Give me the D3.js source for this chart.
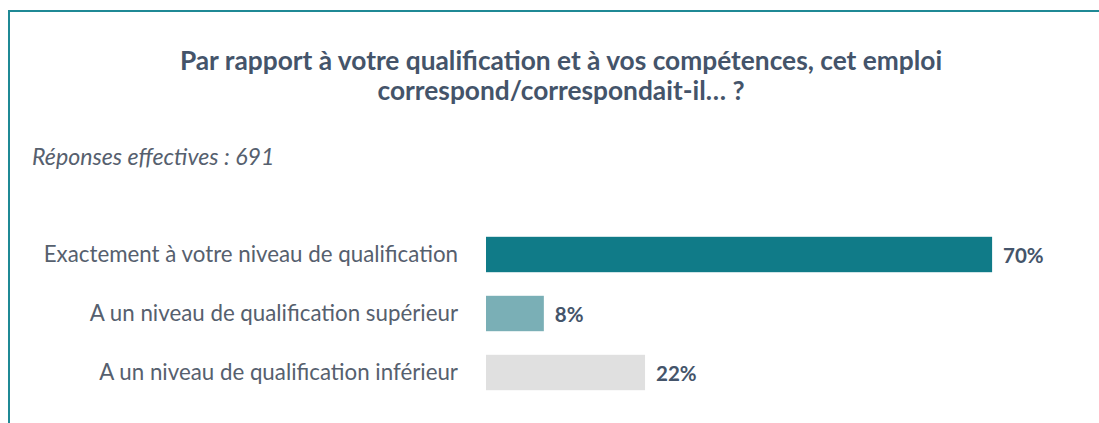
<!DOCTYPE html>
<html>
<head>
<meta charset="utf-8">
<script src="https://cdn.jsdelivr.net/npm/d3@7"></script>
<style>
  body { margin: 0; background: #fff; }
  text { font-family: Lato, "Open Sans", sans-serif; }
</style>
</head>
<body>
<div id="chart-area"></div>
<script>
var categories = [
    "Exactement à votre niveau de qualification",
    "A un niveau de qualification supérieur",
    "A un niveau de qualification inférieur"
];
var values = [70, 8, 22];
var barColors = ["#107b88", "#7aafb6", "#e0e0e0"];
var titleLines = [
    "Par rapport à votre qualification et à vos compétences, cet emploi",
    "correspond/correspondait-il… ?"
];
var subtitle = "Réponses effectives : 691";

var width = 1099;
var height = 423;

var svg = d3.select("#chart-area")
    .append("svg")
    .attr("width", width)
    .attr("height", height);

// frame (top and left edges only are visible)
svg.append("path")
    .attr("d", "M9,423 V11 H1099")
    .attr("fill", "none")
    .attr("stroke", "#1f8995")
    .attr("stroke-width", 2);

// title
svg.append("text")
    .attr("x", 561)
    .attr("y", 70)
    .attr("text-anchor", "middle")
    .attr("font-size", "26.3px")
    .attr("font-weight", "bold")
    .attr("fill", "#44546a")
    .selectAll("tspan")
    .data(titleLines)
    .enter()
    .append("tspan")
        .attr("x", 561)
        .attr("dy", (d, i) => i === 0 ? 0 : 30)
        .text((d) => d);

svg.append("text")
    .attr("x", 32)
    .attr("y", 165)
    .attr("font-size", "23.2px")
    .attr("font-style", "italic")
    .attr("fill", "#56606e")
    .text(subtitle);

var data = categories.map((c, i) => ({ cat: c, value: values[i], color: barColors[i] }));

var x = d3.scaleLinear()
    .domain([0, 100])
    .range([486, 486 + 723]);

var y = d3.scaleBand()
    .domain(categories)
    .range([225, 402])
    .paddingInner(0.4)
    .paddingOuter(0.2);

// category axis, no line / ticks
var yAxis = svg.append("g")
    .attr("transform", "translate(486, 0)")
    .call(d3.axisLeft(y).tickSize(0).tickPadding(28));
yAxis.select(".domain").remove();
yAxis.selectAll("text")
    .attr("font-family", "Lato, 'Open Sans', sans-serif")
    .attr("font-size", "22.3px")
    .attr("fill", "#56606e");

svg.selectAll("rect.bar")
    .data(data)
    .enter()
    .append("rect")
        .attr("class", "bar")
        .attr("x", x(0))
        .attr("y", (d) => y(d.cat))
        .attr("width", (d) => x(d.value) - x(0))
        .attr("height", y.bandwidth())
        .attr("fill", (d) => d.color);

// value labels
svg.selectAll("text.val")
    .data(data)
    .enter()
    .append("text")
        .attr("class", "val")
        .attr("x", (d) => x(d.value) + 11)
        .attr("y", (d) => y(d.cat) + y.bandwidth() / 2 + 1)
        .attr("dy", "0.35em")
        .attr("font-size", "20.5px")
        .attr("font-weight", "bold")
        .attr("fill", "#44546a")
        .text((d) => d.value + "%");
</script>
</body>
</html>
